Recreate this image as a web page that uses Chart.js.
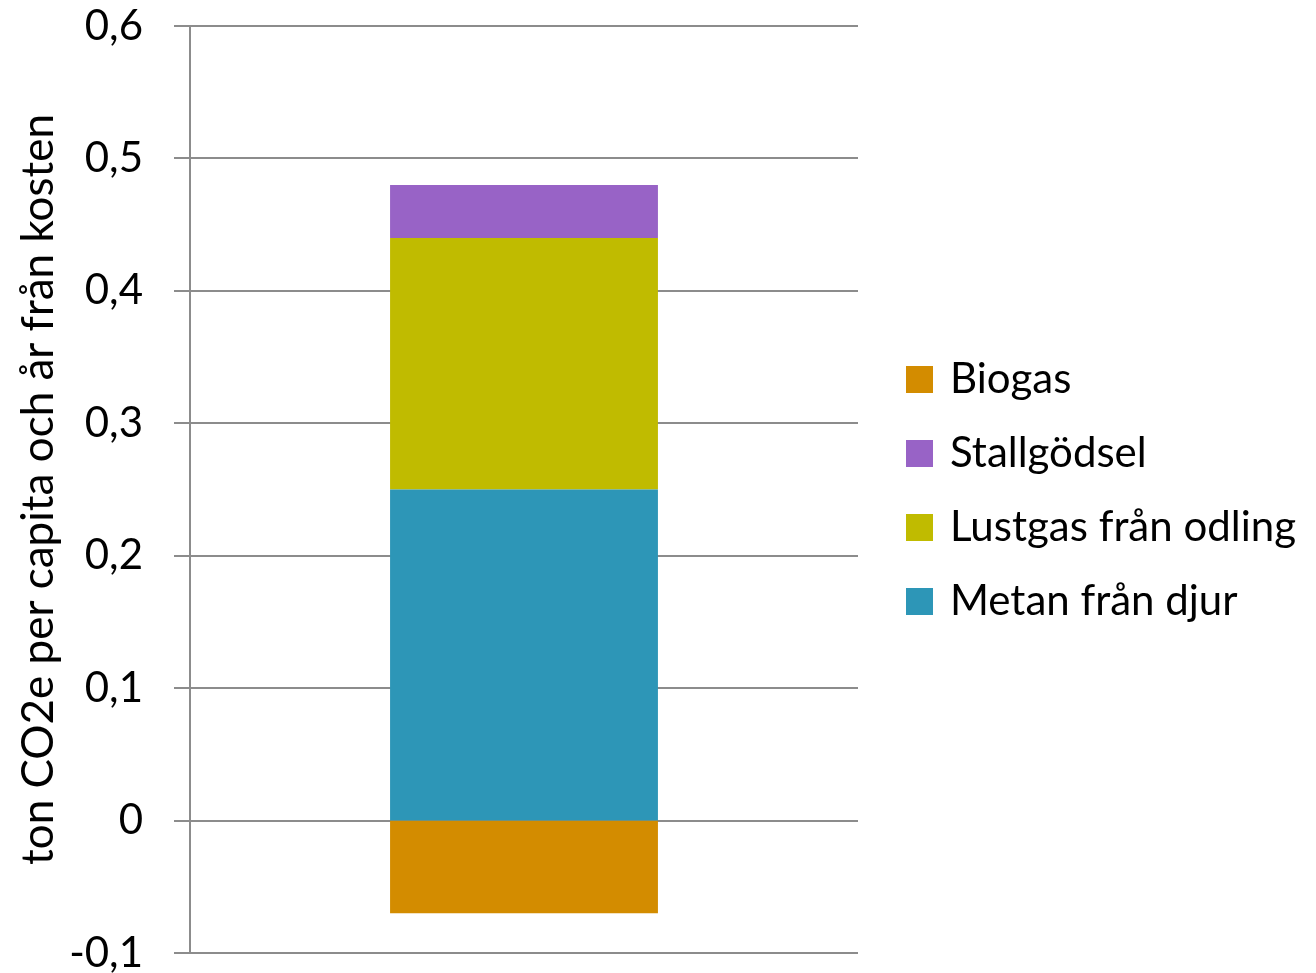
<!DOCTYPE html>
<html lang="sv">
<head>
<meta charset="utf-8">
<title>Utsläpp från kosten</title>
<script src="https://cdn.jsdelivr.net/npm/chart.js@4/dist/chart.umd.min.js"></script>
<style>
  html, body { margin: 0; padding: 0; background: #fff; }
  #wrap { width: 1316px; height: 973px; position: relative; }
</style>
</head>
<body>
<div id="wrap"><canvas id="stapel"></canvas></div>
<script>
const kategorier = ["Kost"];
const metanFranDjur = [0.25];
const lustgasFranOdling = [0.19];
const stallgodsel = [0.04];
const biogas = [-0.07];
const yMin = -0.1;
const yMax = 0.6;
const ySteg = 0.1;

// legenden ska ha fast bredd så att diagramytan slutar på samma ställe
const legendFix = {
  id: "legendFix",
  afterInit(chart) {
    const fit = chart.legend.fit;
    chart.legend.fit = function () {
      fit.call(this);
      this.width = 458;
    };
  },
  afterLayout(chart) {
    const l = chart.legend;
    l.left += 20;
    l.right += 20;
    l.top += 1;
    l.bottom += 1;
  },
};

Chart.defaults.font.family = "Lato, 'Open Sans', sans-serif";
Chart.defaults.color = "#000";

let stapel = new Chart(document.getElementById("stapel"), {
  type: "bar",
  data: {
    labels: kategorier,
    datasets: [
      { label: "Metan från djur", data: metanFranDjur, backgroundColor: "#2D96B7" },
      { label: "Lustgas från odling", data: lustgasFranOdling, backgroundColor: "#C0BB00" },
      { label: "Stallgödsel", data: stallgodsel, backgroundColor: "#9863C6" },
      { label: "Biogas", data: biogas, backgroundColor: "#D38C00" },
    ],
  },
  options: {
    responsive: true,
    maintainAspectRatio: false,
    animation: false,
    categoryPercentage: 0.401,
    barPercentage: 1,
    layout: { padding: { left: 0, top: 26, right: 0, bottom: 20 } },
    plugins: {
      tooltip: { enabled: false },
      legend: {
        position: "right",
        reverse: true,
        labels: {
          // liten ruta + tjock kant i samma färg => texten hamnar närmare rutan
          boxWidth: 19,
          boxHeight: 19,
          padding: 32,
          font: { size: 42 },
          color: "#000",
          generateLabels(chart) {
            return Chart.defaults.plugins.legend.labels
              .generateLabels(chart)
              .map((it) => ({ ...it, lineWidth: 8, strokeStyle: it.fillStyle }));
          },
        },
      },
    },
    scales: {
      x: { stacked: true, display: false },
      y: {
        stacked: true,
        min: yMin,
        max: yMax,
        ticks: {
          stepSize: ySteg,
          padding: 31,
          font: { size: 42 },
          color: "#000",
          callback: (v) => (Math.abs(v) < 1e-9 ? "0" : v.toFixed(1).replace(".", ",")),
        },
        grid: { color: "#8c8c8c", lineWidth: 2, tickLength: 16 },
        border: { color: "#8c8c8c", width: 2 },
        title: {
          display: true,
          text: "ton CO2e per capita och år från kosten",
          font: { size: 44 },
          color: "#000",
          padding: { top: 12, bottom: 0 },
        },
        afterFit(scale) {
          scale.width = 190;
          scale.paddingTop = 0;
          scale.paddingBottom = 0;
        },
      },
    },
  },
  plugins: [legendFix],
});
</script>
</body>
</html>
